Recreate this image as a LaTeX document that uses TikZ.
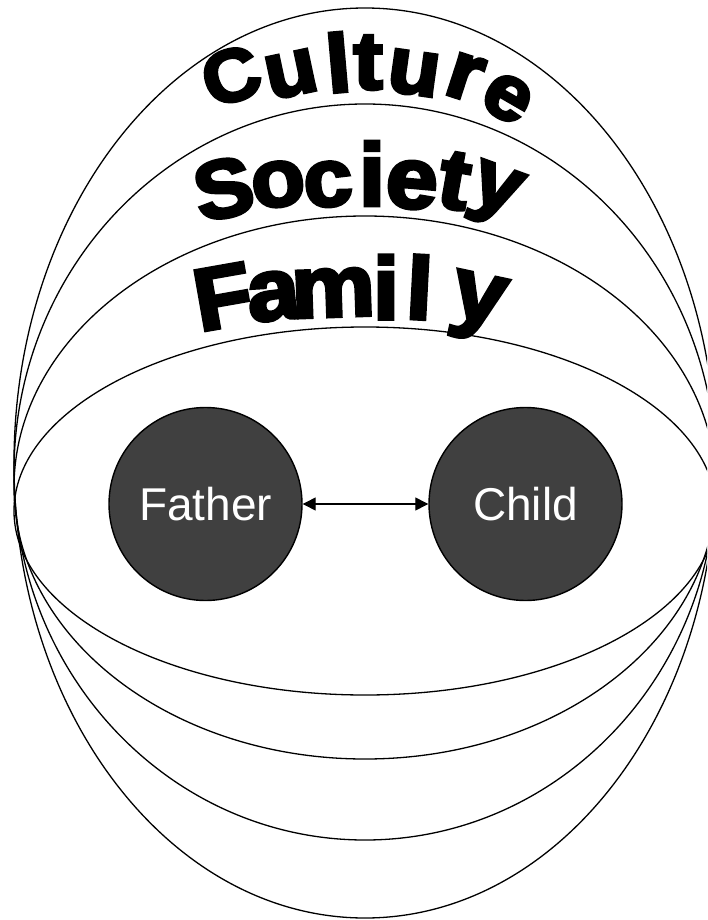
\documentclass[tikz,border=0pt]{standalone}
\usepackage{fontspec}
\setmainfont{Liberation Sans}
\newfontfamily\heavyfont{Liberation Sans Bold}[FakeBold=4]
\usetikzlibrary{arrows.meta}
\definecolor{circfill}{HTML}{404040}
\tikzset{
  ring/.style={draw=black, line width=1.3pt},
  person/.style={circle, draw=black, line width=1.4pt, fill=circfill, minimum size=193pt, inner sep=0pt, text=white, font=\fontsize{46}{46}\selectfont},
  wlA/.style={anchor=base, inner sep=0pt, font=\heavyfont\fontsize{82}{82}\selectfont},
  wlB/.style={anchor=base, inner sep=0pt, font=\heavyfont\fontsize{88}{88}\selectfont},
  lt/.style 2 args={rotate=#1, scale=#2, xscale=1.07},
  link/.style={line width=1.3pt, {Triangle[length=13pt,width=13pt]}-{Triangle[length=13pt,width=13pt]}}
}
\begin{document}
\begin{tikzpicture}[x=1pt, y=-1pt]
\useasboundingbox (0,0) rectangle (707,920);
\fill[white] (0,0) rectangle (707,920);
\clip (0,0) rectangle (707,920);
% nested ellipses
\draw[ring] (365,463) ellipse [x radius=351, y radius=455];
\draw[ring] (365,472) ellipse [x radius=351, y radius=368];
\draw[ring] (365,487.5) ellipse [x radius=351, y radius=271.5];
\draw[ring] (365,511) ellipse [x radius=351, y radius=184];
% Culture
\node[wlA, lt={18}{0.9}] (cu1) at (239,100) {C};
\node[wlA, lt={12}{0.97}] (cu2) at (295.6,94.5) {u};
\node[wlA, lt={5}{1}] (cu3) at (340.7,91.9) {l};
\node[wlA, lt={0}{1}] (cu4) at (368,89) {t};
\node[wlA, lt={-8}{0.97}] (cu5) at (411,93.8) {u};
\node[wlA, lt={-18}{1}] (cu6) at (458,98) {r};
\node[wlA, lt={-30}{0.95}] (cu7) at (497,116) {e};
% Society
\node[wlA, lt={12}{1}] (so1) at (229.4,216.3) {S};
\node[wlA, lt={8}{1}] (so2) at (281.2,205.8) {o};
\node[wlA, lt={4}{1}] (so3) at (329.6,206) {c};
\node[wlA, lt={0}{1.08}] (so4) at (372,205.5) {i};
\node[wlA, lt={-5}{1.06}] (so5) at (409.8,207.9) {e};
\node[wlA, lt={-10}{1.04}] (so6) at (449.7,208) {t};
\node[wlA, lt={-20}{1}] (so7) at (489.7,208) {y};
% Family
\node[wlB, lt={10}{1}] (fa1) at (228,326.5) {F};
\node[wlB, lt={6}{1}] (fa2) at (276,319.4) {a};
\node[wlB, lt={2}{1}] (fa3) at (334,316.5) {m};
\node[wlB, lt={0}{1}] (fa4) at (386,319) {i};
\node[wlB, lt={-3}{1}] (fa5) at (418,319) {l};
\node[wlB, lt={-12}{1.02}] (fa6) at (474,321.3) {y};
% persons
\node[person] (father) at (205.5,504) {Father};
\node[person] (child) at (525.5,504) {Child};
\draw[link] (father.east) -- (child.west);
\end{tikzpicture}
\end{document}
